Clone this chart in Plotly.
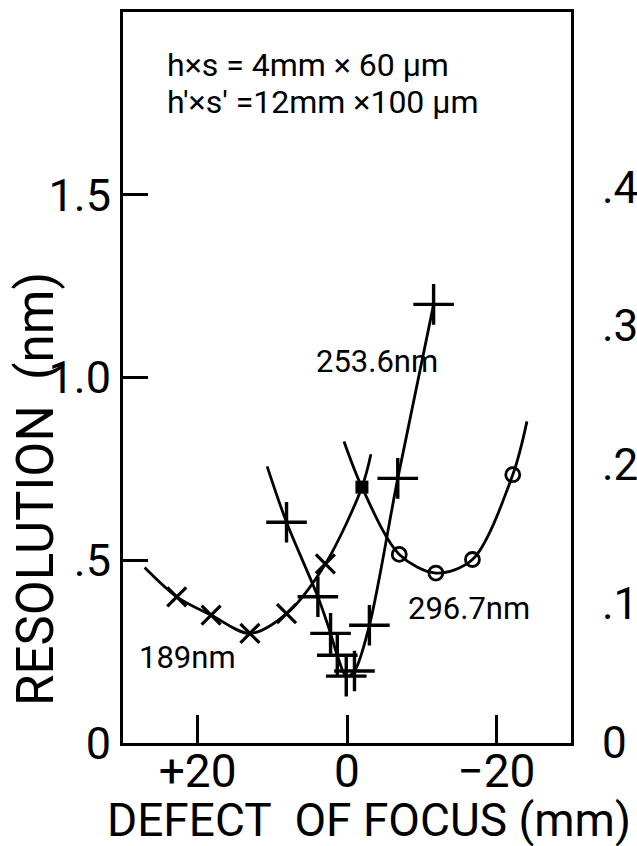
import plotly.graph_objects as go

# ---- data ----
# 189 nm series (x markers); first and last points are curve extensions without markers
x189 = [27.1, 22.8, 18.2, 13.0, 8.1, 2.9, -2.0, -3.2]
y189 = [0.48, 0.40, 0.35, 0.30, 0.354, 0.49, 0.70, 0.79]
m189 = [0, 1, 1, 1, 1, 1, 0, 0]

# 253.6 nm series (+ markers)
x253 = [10.7, 8.1, 3.9, 2.2, 1.3, 0.1, -1.0, -3.0, -6.8, -11.6]
y253 = [0.757, 0.604, 0.40, 0.30, 0.24, 0.183, 0.197, 0.322, 0.724, 1.20]
m253 = [0, 1, 1, 1, 1, 1, 1, 1, 1, 1]

# 296.7 nm series (o markers)
x296 = [0.4, -2.0, -7.0, -11.9, -16.8, -22.2, -24.1]
y296 = [0.825, 0.70, 0.516, 0.465, 0.502, 0.734, 0.88]
m296 = [0, 0, 1, 1, 1, 1, 0]

# shared point of the 189 nm and 296.7 nm curves
x_common = [-2.0]
y_common = [0.70]

y_ticks = [0, 0.5, 1.0, 1.5]
y_ticktext = ["0", ".5", "1.0", "1.5"]
x_ticks = [20, 0, -20]
x_ticktext = ["+20", "0", "\u221220"]
y2_ticks = [0, 0.1, 0.2, 0.3, 0.4]
y2_ticktext = ["0", ".1", ".2", ".3", ".4"]

FONT = "Roboto"
BLACK = "#000000"

fig = go.Figure()

def add_series(xs, ys, ms, symbol, size, lw):
    fig.add_trace(go.Scatter(
        x=xs, y=ys, mode="lines",
        line=dict(color=BLACK, width=2.8, shape="spline", smoothing=0.9),
        showlegend=False, hoverinfo="skip"))
    mx = [x for x, m in zip(xs, ms) if m]
    my = [y for y, m in zip(ys, ms) if m]
    fig.add_trace(go.Scatter(
        x=mx, y=my, mode="markers",
        marker=dict(symbol=symbol, size=size, color=BLACK, opacity=1,
                    line=dict(color=BLACK, width=lw)),
        showlegend=False, hoverinfo="skip"))

add_series(x189, y189, m189, "x-thin", 19, 3.2)
add_series(x253, y253, m253, "cross-thin", 29, 3.4)
add_series(x296, y296, m296, "circle-open", 14, 2.8)

fig.add_trace(go.Scatter(
    x=x_common, y=y_common, mode="markers",
    marker=dict(symbol="square", size=13, color=BLACK),
    showlegend=False, hoverinfo="skip"))

# dummy trace to carry the right-hand axis
fig.add_trace(go.Scatter(x=[0], y=[0], yaxis="y2", mode="lines",
                         line=dict(width=0), showlegend=False, hoverinfo="skip"))

ann = [
    dict(text="h\u00d7s = 4mm \u00d7 60 \u03bcm", x=24.4, y=1.855, xanchor="left", yanchor="middle",
         font=dict(size=32)),
    dict(text="h'\u00d7s' =12mm \u00d7100 \u03bcm", x=24.4, y=1.754, xanchor="left", yanchor="middle",
         font=dict(size=32)),
    dict(text="189nm", x=21.3, y=0.235, xanchor="center", yanchor="middle", font=dict(size=31)),
    dict(text="296.7nm", x=-16.4, y=0.369, xanchor="center", yanchor="middle", font=dict(size=31)),
    dict(text="253.6nm", x=-4.0, y=1.044, xanchor="center", yanchor="middle", font=dict(size=31)),
    dict(text="RESOLUTION\u00a0\u00a0(nm)", xref="paper", yref="paper", x=-0.195, y=0.347,
         xanchor="center", yanchor="middle", textangle=-90, font=dict(size=51)),
    dict(text="DEFECT\u00a0\u00a0OF FOCUS (mm)", xref="paper", yref="paper", x=0.548, y=-0.105,
         xanchor="center", yanchor="middle", font=dict(size=46)),
]
for a in ann:
    a.setdefault("xref", "x")
    a.setdefault("yref", "y")
    a["showarrow"] = False
    a["font"]["family"] = FONT
    a["font"]["color"] = BLACK

fig.update_layout(
    width=637, height=846,
    margin=dict(l=123, r=66, t=12, b=103, autoexpand=False),
    paper_bgcolor="white", plot_bgcolor="white",
    font=dict(family=FONT, color=BLACK),
    annotations=ann,
    xaxis=dict(range=[30, -30], tickvals=x_ticks, ticktext=x_ticktext,
               ticks="inside", ticklen=28, tickwidth=2.6, tickcolor=BLACK,
               showline=True, linewidth=3, linecolor=BLACK, mirror=True,
               showgrid=False, zeroline=False, automargin=False,
               tickfont=dict(size=46, family=FONT), ticklabelstandoff=-14),
    yaxis=dict(range=[0, 2.0], tickvals=y_ticks, ticktext=y_ticktext,
               ticks="inside", ticklen=25, tickwidth=2.6, tickcolor=BLACK,
               showline=True, linewidth=3, linecolor=BLACK, mirror=True,
               showgrid=False, zeroline=False, automargin=False,
               tickfont=dict(size=45, family=FONT), ticklabelstandoff=0),
    yaxis2=dict(range=[0, 0.526], overlaying="y", side="right",
                tickvals=y2_ticks, ticktext=y2_ticktext, ticks="",
                showline=False, showgrid=False, zeroline=False, automargin=False,
                tickfont=dict(size=44, family=FONT), ticklabelstandoff=30),
)

fig.write_html("out.html", config={"displayModeBar": False},
               post_script="document.body.style.margin='0';")
